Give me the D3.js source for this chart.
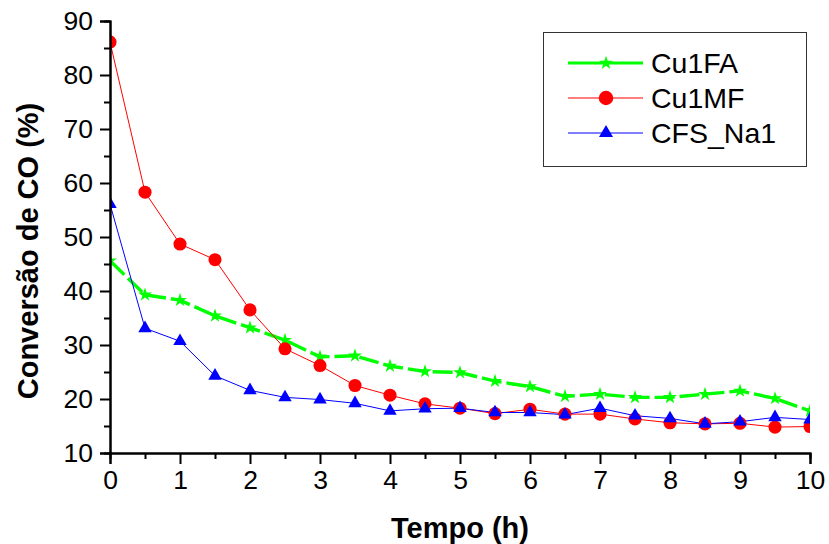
<!DOCTYPE html>
<html><head><meta charset="utf-8">
<script src="https://cdn.jsdelivr.net/npm/d3@7"></script>
<style>
html,body{margin:0;padding:0;background:#fff;}
text{font-family:"Liberation Sans",Arial,sans-serif;}
</style></head>
<body>
<svg id="chart" width="829" height="544"></svg>
<script>
const time = [0,0.5,1,1.5,2,2.5,3,3.5,4,4.5,5,5.5,6,6.5,7,7.5,8,8.5,9,9.5,10];
const cu1fa = [45.6,39.3,38.3,35.4,33.2,30.9,27.8,28.0,26.1,25.1,24.9,23.3,22.3,20.5,20.9,20.3,20.3,20.9,21.5,20.1,17.8];
const cu1mf = [86.1,58.3,48.7,45.8,36.5,29.3,26.2,22.5,20.7,19.1,18.3,17.3,18.1,17.2,17.2,16.3,15.6,15.4,15.5,14.8,14.9];
const cfsNa1 = [56.1,33.1,30.7,24.3,21.6,20.3,19.9,19.2,17.8,18.2,18.3,17.5,17.5,17.1,18.3,16.9,16.4,15.4,15.8,16.6,16.2];
const seriesNames = ["Cu1FA","Cu1MF","CFS_Na1"];
const xTicks = [0,1,2,3,4,5,6,7,8,9,10];
const yTicks = [10,20,30,40,50,60,70,80,90];
const xTitle = "Tempo (h)";
const yTitle = "Conversão de CO (%)";

const svg = d3.select("#chart");
const L = 110, R = 810, T = 21, B = 453;
const x = d3.scaleLinear().domain([0,10]).range([L,R]);
const y = d3.scaleLinear().domain([10,90]).range([B,T]);

const series = [
  {name:seriesNames[0], values:cu1fa, color:"#00ff00", width:3.4, dash:"20,5", symbol:d3.symbolStar, size:60, lsize:60},
  {name:seriesNames[1], values:cu1mf, color:"#ff0000", width:1, dash:null, symbol:d3.symbolCircle, size:135, lsize:165},
  {name:seriesNames[2], values:cfsNa1, color:"#0000ff", width:1, dash:null, symbol:d3.symbolTriangle, size:78, lsize:85}
];

svg.append("defs").append("clipPath").attr("id","clip")
  .append("rect").attr("x",L+1).attr("y",0).attr("width",R-L-1).attr("height",B);

const plot = svg.append("g").attr("clip-path","url(#clip)");
const line = d3.line().x((d,i)=>x(time[i])).y(d=>y(d));

series.forEach(s=>{
  plot.append("path").datum(s.values)
    .attr("d",line).attr("fill","none")
    .attr("stroke",s.color).attr("stroke-width",s.width)
    .attr("stroke-dasharray",s.dash);
});
series.forEach(s=>{
  plot.append("g").selectAll("path").data(s.values).join("path")
    .attr("transform",(d,i)=>`translate(${x(time[i])},${y(d)})`)
    .attr("d",d3.symbol().type(s.symbol).size(s.size)())
    .attr("fill",s.color);
});

// axes
const xAxis = svg.append("g").attr("transform",`translate(0,${B})`);
xAxis.call(d3.axisBottom(x).tickValues(d3.range(0.5,10,1)).tickSize(6).tickFormat(""));
xAxis.call(g=>g.append("g").call(d3.axisBottom(x).tickValues(xTicks).tickSize(11).tickPadding(6).tickFormat(d3.format("d"))));
const yAxis = svg.append("g").attr("transform",`translate(${L},0)`);
yAxis.call(d3.axisLeft(y).tickValues(d3.range(15,90,10)).tickSize(6).tickFormat(""));
yAxis.call(g=>g.append("g").call(d3.axisLeft(y).tickValues(yTicks).tickSize(10).tickPadding(7).tickFormat(d3.format("d"))));
svg.selectAll(".domain").attr("stroke","#000").attr("stroke-width",2);
svg.selectAll(".tick line").attr("stroke","#000").attr("stroke-width",2);
svg.selectAll(".tick text").attr("font-size",26.5).attr("fill","#000")
  .attr("font-family","'Liberation Sans',Arial,sans-serif");

// axis titles
svg.append("text").attr("x",(L+R)/2).attr("y",538).attr("text-anchor","middle")
  .attr("font-size",29).attr("font-weight","bold").text(xTitle);
svg.append("text").attr("transform",`translate(38,251) rotate(-90)`)
  .attr("text-anchor","middle").attr("font-size",29).attr("font-weight","bold").text(yTitle);

// legend
const lg = svg.append("g");
lg.append("rect").attr("x",543.5).attr("y",32.5).attr("width",263).attr("height",134)
  .attr("fill","#fff").attr("stroke","#333").attr("stroke-width",1);
series.forEach((s,i)=>{
  const cy = 63 + i*35;
  lg.append("line").attr("x1",568).attr("x2",643).attr("y1",cy).attr("y2",cy)
    .attr("stroke",s.color).attr("stroke-width",s.width===1?1.2:3);
  lg.append("path").attr("transform",`translate(606,${cy})`)
    .attr("d",d3.symbol().type(s.symbol).size(s.lsize)()).attr("fill",s.color);
  lg.append("text").attr("x",651).attr("y",cy+10).attr("font-size",28.5).attr("fill","#000").text(s.name);
});
</script>
</body></html>
